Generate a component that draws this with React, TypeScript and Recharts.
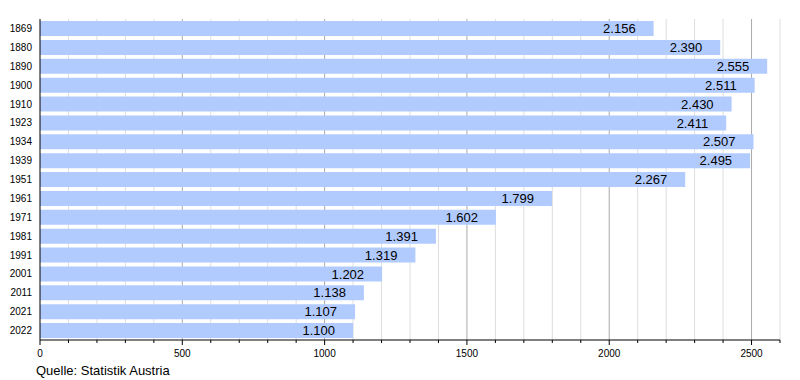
import { Bar, BarChart, CartesianGrid, LabelList, XAxis, YAxis } from "recharts";

const years = ["1869", "1880", "1890", "1900", "1910", "1923", "1934", "1939", "1951", "1961", "1971", "1981", "1991", "2001", "2011", "2021", "2022"];
const population = [2156, 2390, 2555, 2511, 2430, 2411, 2507, 2495, 2267, 1799, 1602, 1391, 1319, 1202, 1138, 1107, 1100];

const xTicks = [0, 100, 200, 300, 400, 500, 600, 700, 800, 900, 1000, 1100, 1200, 1300, 1400, 1500, 1600, 1700, 1800, 1900, 2000, 2100, 2200, 2300, 2400, 2500, 2600];
const majorTicks = [500, 1000, 1500, 2000, 2500];
const minorTicks = xTicks.filter((t) => t > 0 && !majorTicks.includes(t));

const data = years.map((year, i) => ({ year, value: population[i] }));

const FONT = "'Liberation Sans', Arial, Helvetica, sans-serif";

const formatDe = (v: number) => v.toLocaleString("de-DE");

function XTick({ x, y, payload }: any) {
  const major = payload.value % 500 === 0;
  return (
    <g>
      <line x1={x} x2={x} y1={y} y2={y + (major ? 5 : 3)} stroke="#000" />
      {major && (
        <text x={x} y={y + 17} textAnchor="middle" fontSize={10} fill="#000" fontFamily={FONT}>
          {payload.value}
        </text>
      )}
    </g>
  );
}

export default function App() {
  return (
    <div style={{ position: "absolute", left: 0, top: 0, width: 800, height: 380, background: "#fff", fontFamily: FONT }}>
      <BarChart
        width={800}
        height={380}
        data={data}
        layout="vertical"
        margin={{ top: 19, right: 20, bottom: 20, left: 0 }}
        barCategoryGap={4}
      >
        <CartesianGrid horizontal={false} verticalValues={minorTicks} stroke="#dddddd" strokeWidth={1} />
        <CartesianGrid horizontal={false} verticalValues={majorTicks} stroke="#aaaaaa" strokeWidth={1} />
        <XAxis
          type="number"
          domain={[0, 2600]}
          ticks={xTicks}
          interval={0}
          tickSize={0}
          tickMargin={0}
          tickLine={false}
          axisLine={{ stroke: "#000" }}
          tick={<XTick />}
          height={20}
        />
        <YAxis
          type="category"
          dataKey="year"
          width={40}
          tickSize={0}
          tickMargin={8}
          tickLine={false}
          axisLine={{ stroke: "#000" }}
          tick={{ fontSize: 10, fill: "#000", fontFamily: FONT }}
          interval={0}
        />
        <Bar dataKey="value" fill="#b2cbff" barSize={15} isAnimationActive={false}>
          <LabelList
            dataKey="value"
            position="insideRight"
            offset={18}
            formatter={(v: any) => formatDe(Number(v))}
            style={{ fontSize: 13, fill: "#000", fontFamily: FONT }}
          />
        </Bar>
      </BarChart>
      <div style={{ position: "absolute", left: 36, top: 363, fontSize: 13, lineHeight: "15px", color: "#000" }}>
        Quelle: Statistik Austria
      </div>
    </div>
  );
}
